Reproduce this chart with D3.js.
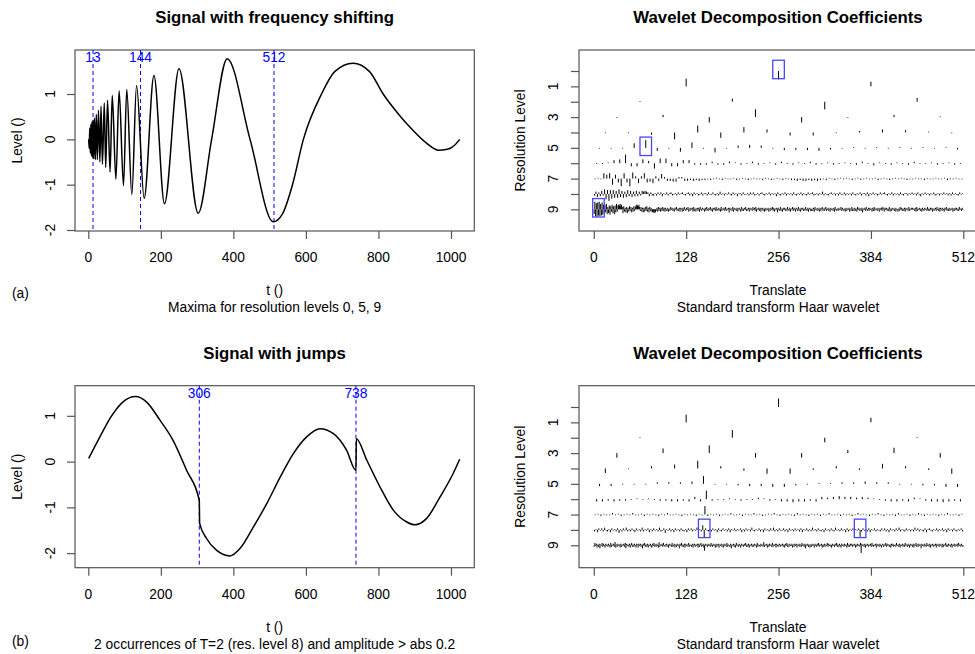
<!DOCTYPE html>
<html lang="en">
<head>
<meta charset="UTF-8">
<title>Wavelet maxima: frequency shifting and jumps</title>
<script src="https://d3js.org/d3.v7.min.js"></script>
<style>
  body { margin: 0; background: #fff; }
  svg { display: block; font-family: "Liberation Sans", Arial, sans-serif; }
  .frame { fill: none; stroke: #555; stroke-width: 1.2; }
  .tick line { stroke: #555; stroke-width: 1.2; }
  .lab { font-size: 13.8px; fill: #000; }
  .title { font-size: 16.8px; font-weight: bold; fill: #000; }
  .mark { font-size: 13.8px; fill: #0000ff; }
</style>
</head>
<body>
<script>
// ---- signal (a): chirp (t, level)
const sigA_t = [1,2.5,4,5.5,7,8.5,10,11.5,13,15,17,19.5,22,25,28,32,35,39,44,48,53,60,66,76,85,97,106,120,133,154,181,210,250,303,340,383,446,510,535,563,593,643,680,730,775,813,856,895,935,965,990,1010,1024];
const sigA_v = [0,-0.2,0.25,-0.3,0.33,-0.36,0.38,-0.4,0.42,-0.43,0.47,-0.45,0.55,-0.45,0.64,-0.5,0.73,-0.55,0.8,-0.62,0.86,-0.72,0.97,-0.88,1.07,-1.02,1.1,-1.22,1.19,-1.3,1.41,-1.42,1.56,-1.63,0.0,1.78,0.0,-1.82,-1.65,-1.0,0.0,1.0,1.5,1.68,1.5,1.0,0.55,0.2,-0.1,-0.24,-0.22,-0.13,0.0];

// ---- signal (b): sine with two jumps
const sigB_t = [1,32,62,95,130,161,198,234,271,306,307,326,354,391,418,455,492,529,565,602,639,676,712,738,739,768,804,841,878,900,933,970,1006,1024];
const sigB_v = [0.07,0.54,0.97,1.3,1.42,1.3,0.9,0.46,-0.19,-0.85,-1.35,-1.68,-1.94,-2.06,-1.9,-1.43,-0.92,-0.34,0.17,0.54,0.72,0.61,0.25,-0.19,0.5,0.03,-0.55,-1.06,-1.32,-1.38,-1.24,-0.77,-0.26,0.05];

// marked maxima
const marksA = [13, 144, 512];
const marksB = [306, 738];

// boxes on the coefficient plots (level, translate)
const boxLevA = [0, 5, 9], boxPosA = [256, 72, 6.5];
const boxLevB = [8, 8], boxPosB = [153, 369];

// ---- wavelet coefficients, one array per resolution level (units of 0.05 level, + = downwards)
const cA0 = [11];
const cA1 = [-10,-6];
const cA2 = [-1,-4,10,-5];
const cA3 = [1,-3,7,-10,7,1,-3,-1];
const cA4 = [1,1,3,9,-9,7,-7,-4,4,4,1,-2,-4,-3,-1,1];
const cA5 = [1,1,1,-6,-10,4,1,5,-7,1,6,1,-3,-4,-3,1,3,3,3,4,2,1,-1,1,-1,1,-1,1,-1,1,-1,2];
const cA6 = [1,1,-1,-4,-5,-11,4,4,-5,-3,7,-6,-6,4,4,-4,-4,2,2,2,-2,2,2,-2,-1,2,1,-2,2,1,-1,2,-2,1,2,-1,1,-2,2,1,-1,2,1,-1,1,2,-2,1,3,-1,1,2,-1,1,2,-2,1,1,-1,2,1,-1,2,1];
const cA7 = [1,-1,1,-7,-5,-7,8,-5,5,10,-7,5,10,-8,-3,6,-3,-7,5,4,6,-3,3,-6,-2,3,3,4,4,-2,
  -2,3,3,2,3,2,3,2,2,1,2,1,-1,1,2,-1,1,1,-1,2,1,-1,1,2,1,-1,1,1,2,-1,1,2,1,-1,1,2,-1,1,2,2,
  3,2,3,3,2,3,2,3,2,1,2,-1,1,2,1,-1,1,-1,1,2,1,-1,2,1,-1,1,1,-1,2,1,-1,1,2,1,-1,1,-1,1,2,1,
  1,-1,1,1,2,-1,1,1,-1,1,1,-1,2,1,1,-1,1,1];
const cA8 = [2,-3,4,-2,3,-4,2,
  -6,7,-5,9,-5,6,-5,5,-4,5,-6,4,-4,5,-3,4,-5,3,-4,4,-3,3,-4,3,-3,2,-4,-3,-4,-3,-2,3,-2,2,
  2,-1,2,-2,1,-2,3,-1,1,-2,2,-1,-2,2,1,-1,2,-2,1,-1,
  -2,1,2,-1,-2,2,-1,3,-2,1,-1,2,1,-2,2,-1,-1,2,-2,1,
  1,-2,1,2,-1,2,-3,1,-1,2,-1,1,-2,1,2,-2,1,-1,3,-1,
  -1,2,-2,1,1,-1,2,-2,1,-2,2,1,-1,2,-1,-2,1,2,-1,1,
  -2,2,-1,1,-1,3,-2,1,2,-1,1,-2,2,-1,1,-1,2,-2,1,2,
  -1,1,-2,2,-1,1,2,-2,1,-1,-2,2,1,-1,2,-1,1,-3,2,-1,
  1,2,-1,-2,1,-1,2,-1,2,-2,1,1,-2,2,-1,1,-1,2,-2,1,
  2,-1,1,-2,2,-1,-1,2,-2,3,-1,1,-2,1,-1,2,1,-2,1,-1,
  -2,1,2,-1,1,-2,2,-1,1,-1,2,-2,1,2,-1,-1,2,-1,1,-2,
  1,-1,2,-2,1,3,-1,1,-2,1,-1,2,-1,1,-2,2,1,-1,2,-1,
  1,-2,1,-1,2,-1,2,-2,1,-1,1,2,-2,1,-1];
const cA9 = [6,-10,9,-8,10,-9,8,-10,9,-7,8,-9,7,-6,
  5,-6,4,-7,6,-3,5,-5,7,-4,3,-6,5,-4,6,-5,4,-7,3,-5,
  -6,-5,-7,-4,-6,-3,5,-4,3,-2,4,-3,5,-2,3,-4,2,-3,4,-2,
  3,-4,2,-3,-5,-6,-5,-4,-6,-3,2,-3,3,-2,4,-2,3,-3,2,-4,
  3,-2,4,-3,2,-2,3,4,3,5,3,4,2,-2,3,-3,2,-2,3,-2,
  2,-3,2,-2,3,-2,2,
  2,-2,3,-1,2,-3,1,-2,2,-1,3,-2,1,-3,2,-1,2,-2,3,-2,
  -1,3,-2,2,-3,1,2,-2,1,-3,3,-1,2,-2,1,-2,3,-3,2,-1,
  3,-1,-2,2,-2,3,-3,1,2,-2,1,-1,3,-2,2,-3,1,2,-2,1,
  -3,2,-1,3,-2,1,-2,2,-3,2,1,-2,2,-1,3,-3,2,-1,1,-2,
  2,-3,2,-1,1,-2,4,-2,1,-1,2,-3,3,-2,1,-1,2,-2,3,-1,
  -2,1,3,-3,2,-1,2,-2,1,-3,2,2,-1,-2,3,-2,1,-1,2,-3,
  1,-2,2,-3,3,-1,1,-2,2,-2,3,-1,-2,2,-1,3,-2,2,-1,1,
  -2,3,-1,2,-2,1,-3,2,-2,3,-1,1,-2,4,-2,1,2,-3,2,-1,
  3,-2,1,-2,2,-1,2,-3,1,2,-2,3,-1,1,-3,2,-2,1,3,-2,
  -1,2,-3,2,-1,3,-2,1,-2,2,-1,2,-3,1,2,-2,3,-1,-2,2,
  2,-1,2,-2,3,-3,1,-1,2,-2,1,3,-2,2,-1,-3,2,-1,2,-2,
  -3,2,1,-2,2,-1,3,-2,1,-1,2,-2,3,-3,1,2,-1,2,-2,1,
  1,-3,2,-2,1,2,-1,3,-2,2,-1,1,-2,3,-1,2,-3,2,-1,2,
  -2,2,-1,3,-3,1,-2,2,-1,2,-2,4,-1,1,-2,2,-3,1,2,-2,
  2,-2,1,-1,3,-2,2,-3,2,-1,1,-2,2,-1,3,-2,1,-2,2,-3,
  -1,3,-2,1,-2,2,-1,2,-3,3,-1,2,-2,1,-1,2,-2,3,-1,1,
  3,-1,2,-3,1,-2,2,-1,2,-2,3,-2,1,-1,2,-3,2,-1,1,-2,
  -2,1,-1,2,-2,3,-3,2,-1,1,-2,2,-1,3,-2,1,2,-2,1,-1,
  2,-3,2,-1,2,-2,1,-2,3,-1,2,-1,-2,2,-3,1,2,-2,3,-2,
  -1,2,-2,1,3,-2,1,-3,2,-1,2,-2,2,-1,1,-2,3,-1,2,-2,
  1,-2,2,-1,2,-3,1,-1,2,-2,1];

const cB0 = [-11];
const cB1 = [-10,-6];
const cB2 = [-1,-10,6,-1];
const cB3 = [6,-6,-10,6,6,-4,-7,6];
const cB4 = [6,1,-3,-5,-10,-3,3,7,7,2,-3,2,-6,-3,2,7];
const cB5 = [3,3,1,1,1,-2,-2,-2,-3,-10,1,1,2,3,3,4,4,2,1,-1,-1,-2,-2,-3,-2,-2,1,1,2,2,4,4];
const cB6 = [3,3,2,3,2,2,1,-1,1,-1,1,2,2,3,3,2,3,-3,3,-11,2,1,1,-1,1,2,1,1,-2,-1,2,1,
  3,3,4,3,3,2,3,-3,-2,-3,-4,-3,-3,-2,-3,-2,-1,1,2,3,3,2,3,-2,-1,2,3,3,4,3,2,3];
const cB7 = [1,-1,2,-1,1,1,-2,1,-1,2,1,-1,1,-2,1,1,-1,2,-1,1,
  -1,1,2,-1,1,-2,1,1,-1,1,2,-1,1,-1,1,2,-1,1,-11,2,
  -1,1,-1,2,1,-1,1,-2,1,1,-1,2,-1,1,1,-2,1,-1,2,1,
  -1,1,-2,1,2,-1,1,-1,1,2,-2,1,-1,1,2,-1,1,-1,2,-1,
  1,-2,1,1,-1,2,-1,1,-1,2,1,-2,1,-1,1,2,-1,1,-2,1,
  2,-1,1,-1,2,-2,1,1,-1,2,-1,1,-2,1,2,-1,1,-1,1,2,
  -1,1,-2,1,1,-1,2,-1];
const cB8 = [2,-1,3,-2,1,-2,2,-3,1,2,-1,3,-2,1,-1,2,-2,4,-1,2,
  -2,1,-3,2,-1,2,-2,1,3,-2,1,-1,2,-3,2,-1,1,-2,3,-1,
  2,-2,1,-1,2,-3,2,1,-2,4,-1,1,-2,2,-1,3,-2,1,-1,2,
  -2,1,2,-1,3,-2,1,-2,2,-1,1,-3,2,-1,2,-6,10,-2,1,2,
  -1,2,-2,1,-1,3,-2,1,2,-2,1,-1,2,-2,3,-1,1,-2,2,-1,
  1,-2,3,-1,2,-2,1,-1,2,-3,1,2,-1,1,-2,2,-1,3,-2,1,
  -1,2,-2,1,-3,2,-1,2,-2,1,1,-2,2,-1,3,-2,1,-1,2,-2,
  1,-1,2,-2,3,-1,1,-2,2,-1,2,-3,1,-1,2,-2,1,2,-1,3,
  -2,1,-1,2,-2,1,2,-3,1,-1,2,-2,1,-1,3,-2,2,-1,1,-2,
  2,-1,1,-2,9,2,-2,1,-1,2,-2,3,-1,1,-2,2,-1,1,2,-2,
  1,-2,2,-1,3,-2,1,-1,2,-2,1,-3,2,-1,1,2,-2,1,-1,2,
  -1,2,-3,1,-2,2,-1,1,2,-2,3,-1,-2,1,2,-1,1,-2,2,-1,
  1,-2,2,-1,3,-2,1,-1,2,-2,1,2,-1,1,-2,2];
const cB9 = [2,-3,1,-2,3,-1,2,-2,4,-1,1,-3,2,-2,1,3,-2,1,-1,2,
  -2,1,3,-3,2,-1,1,-2,2,-4,3,-1,2,-2,1,-1,3,-2,2,-1,
  1,-2,2,-3,4,-2,1,-1,2,-2,3,-1,-3,2,-1,2,-2,1,3,-2,
  -1,3,-2,1,-2,2,-1,4,-2,1,-3,2,-1,2,-2,3,-1,1,-2,2,
  3,-2,1,-3,2,-1,2,-2,1,3,-4,2,-1,1,-2,2,-3,1,2,-1,
  -2,2,-1,3,-2,1,-1,2,-3,2,1,-2,3,-1,2,-2,1,-1,4,-2,
  1,-3,2,-1,2,-2,3,-2,1,-1,2,-3,2,-1,1,2,-2,3,-1,-2,
  2,-1,1,-2,3,-2,2,-1,-3,2,1,-2,3,7,-2,1,-1,2,-2,1,
  -1,2,-3,1,2,-2,1,-1,3,-2,2,-1,-2,3,-1,1,-2,2,-1,3,
  -2,1,-1,2,-3,2,-1,1,2,-2,4,-1,1,-2,2,-1,3,-3,1,-1,
  2,-2,1,3,-2,1,-1,2,-2,1,-3,2,-1,2,-2,3,-1,1,-2,2,
  -1,2,-2,1,-1,3,-3,2,-1,1,2,-2,1,-1,2,-4,2,-1,1,-2,
  3,-1,2,-2,1,-1,2,-3,2,-1,1,-2,3,-2,1,2,-1,-2,2,-1,
  1,-2,2,-1,3,-2,1,-3,2,-1,2,-2,1,1,-2,3,-1,2,-2,1,
  -2,3,-1,1,-2,2,-1,2,-3,1,-1,2,-2,4,-1,1,-2,2,-1,3,
  -1,2,-2,1,-1,3,-2,1,2,-2,1,-3,2,-1,1,-2,3,-1,2,-2,
  2,-1,1,-3,2,-2,1,-1,2,3,-2,1,-1,2,-2,1,-3,2,-1,2,
  -2,1,3,-2,1,-1,2,-2,1,-1,3,-3,2,-1,2,-2,1,-2,2,-1,
  1,-2,3,-1,2,-2,1,-1,2,-3,10,-2,1,-1,2,-2,3,-1,1,-2,
  2,-1,1,-2,2,-3,1,2,-1,1,-2,3,-2,1,-1,2,-2,1,3,-1,
  -2,2,-1,1,-3,2,-2,1,-1,2,-1,3,-2,1,-2,2,1,-1,2,-3,
  1,-1,2,-2,3,-1,1,-2,2,-1,2,-3,1,-1,2,-2,1,3,-2,1,
  -1,2,-2,3,-1,1,-3,2,-1,2,-2,1,-1,4,-2,1,-1,2,-2,1,
  2,-3,1,-1,2,-2,3,-1,1,-2,2,-1,1,-2,3,-2,1,-1,2,-2,
  1,-1,3,-2,2,-1,1,-3,2,-1,2,-2,1,-1,2,-2,3,-1,1,-2,
  2,-1,1,-2,2,-3,1,-1,2,-2,1,2];

const coefA = [cA0, cA1, cA2, cA3, cA4, cA5, cA6, cA7, cA8, cA9];
const coefB = [cB0, cB1, cB2, cB3, cB4, cB5, cB6, cB7, cB8, cB9];

const xTicksT = [0, 200, 400, 600, 800, 1000];
const yTicksLevel = [-2, -1, 0, 1];
const xTicksTranslate = [0, 128, 256, 384, 512];
const levelTicks = [0, 1, 2, 3, 4, 5, 6, 7, 8, 9];
const levelLabels = [1, 3, 5, 7, 9];

const svg = d3.select("body").append("svg")
  .attr("width", 975).attr("height", 654);

function addText(g, x, y, txt, cls, rotate) {
  const t = g.append("text").attr("class", cls)
    .attr("text-anchor", "middle").attr("dy", "0.35em").text(txt);
  if (rotate) t.attr("transform", `translate(${x},${y}) rotate(-90)`);
  else t.attr("x", x).attr("y", y);
  return t;
}

function signalPanel(p) {
  const g = svg.append("g");
  const x = d3.scaleLinear().domain([-36.7, 1064.3]).range([75, 474.3]);
  const y = d3.scaleLinear().domain(p.ydom).range([p.y1, p.y0]);

  g.append("rect").attr("class", "frame")
    .attr("x", 75).attr("y", p.y0).attr("width", 474.3 - 75).attr("height", p.y1 - p.y0);

  const ax = g.append("g").attr("transform", `translate(0,${p.y1})`)
    .call(d3.axisBottom(x).tickValues(xTicksT).tickSize(8).tickFormat(""));
  ax.select(".domain").remove();
  xTicksT.forEach(v => addText(g, x(v), p.y1 + 26, String(v), "lab"));

  const ay = g.append("g").attr("transform", "translate(75,0)")
    .call(d3.axisLeft(y).tickValues(yTicksLevel).tickSize(8).tickFormat(""));
  ay.select(".domain").remove();
  yTicksLevel.forEach(v => addText(g, 50, y(v), String(v), "lab", true));

  // dashed markers
  p.marks.forEach(m => {
    g.append("line").attr("x1", x(m)).attr("x2", x(m))
      .attr("y1", p.y0).attr("y2", p.y1)
      .attr("stroke", "#0000ff").attr("stroke-width", 1).attr("stroke-dasharray", "4,3");
    addText(g, x(m), p.y0 + 7.5, String(m), "mark");
  });

  const pts = p.t.map((t, i) => ({ t: t, v: p.v[i] }));
  g.append("path").datum(pts)
    .attr("fill", "none").attr("stroke", "#000").attr("stroke-width", 1.5)
    .attr("stroke-linejoin", "round")
    .attr("d", d3.line().x(d => x(d.t)).y(d => y(d.v)).curve(d3.curveMonotoneX));

  addText(g, 274.6, p.y0 - 33, p.title, "title");
  addText(g, 274.6, p.y1 + 59, "t ()", "lab");
  addText(g, 274.6, p.y1 + 76, p.sub, "lab");
  addText(g, 17, (p.y0 + p.y1) / 2, "Level ()", "lab", true);
  g.append("text").attr("class", "lab").attr("x", 12).attr("y", p.tagY)
    .attr("dy", "0.35em").text(p.tag);
}

function coefPanel(p) {
  const g = svg.append("g");
  const x = d3.scaleLinear().domain([-20.48, 532.48]).range([579, 978.1]);
  const y = d3.scaleLinear().domain(p.ldom).range([p.y0, p.y1]);

  g.append("rect").attr("class", "frame")
    .attr("x", 579).attr("y", p.y0).attr("width", 978.1 - 579).attr("height", p.y1 - p.y0);

  const ax = g.append("g").attr("transform", `translate(0,${p.y1})`)
    .call(d3.axisBottom(x).tickValues(xTicksTranslate).tickSize(8).tickFormat(""));
  ax.select(".domain").remove();
  xTicksTranslate.forEach(v => addText(g, x(v), p.y1 + 26, String(v), "lab"));

  const ay = g.append("g").attr("transform", "translate(579,0)")
    .call(d3.axisLeft(y).tickValues(levelTicks).tickSize(8).tickFormat(""));
  ay.select(".domain").remove();
  levelLabels.forEach(v => addText(g, 553.3, y(v), String(v), "lab", true));

  // coefficient segments
  p.coef.forEach((arr, j) => {
    const n = arr.length;
    g.append("g").selectAll("line").data(arr).join("line")
      .attr("x1", (d, k) => x((k + 0.5) * 512 / n))
      .attr("x2", (d, k) => x((k + 0.5) * 512 / n))
      .attr("y1", y(j))
      .attr("y2", d => y(j + d * 0.05))
      .attr("stroke", "#000").attr("stroke-width", 1);
  });

  // boxes around the selected maxima
  p.boxLev.forEach((lv, i) => {
    const c = p.boxPos[i];
    g.append("rect")
      .attr("x", x(c - 8)).attr("width", x(c + 8) - x(c - 8))
      .attr("y", y(lv - 0.7)).attr("height", y(lv + 0.5) - y(lv - 0.7))
      .attr("fill", "none").attr("stroke", "#4646ff").attr("stroke-width", 1.3);
  });

  addText(g, 778, p.y0 - 33, "Wavelet Decomposition Coefficients", "title");
  addText(g, 778, p.y1 + 59, "Translate", "lab");
  addText(g, 778, p.y1 + 76, "Standard transform Haar wavelet", "lab");
  addText(g, 520, (p.y0 + p.y1) / 2, "Resolution Level", "lab", true);
}

signalPanel({ y0: 50, y1: 231, ydom: [-2.022, 1.971], t: sigA_t, v: sigA_v, marks: marksA,
  title: "Signal with frequency shifting", sub: "Maxima for resolution levels 0, 5, 9",
  tag: "(a)", tagY: 293 });
signalPanel({ y0: 385.7, y1: 567.7, ydom: [-2.318, 1.658], t: sigB_t, v: sigB_v, marks: marksB,
  title: "Signal with jumps", sub: "2 occurrences of T=2 (res. level 8) and amplitude > abs 0.2",
  tag: "(b)", tagY: 641 });
coefPanel({ y0: 50, y1: 231, ldom: [-1.366, 10.41], coef: coefA, boxLev: boxLevA, boxPos: boxPosA });
coefPanel({ y0: 385.7, y1: 567.7, ldom: [-1.386, 10.46], coef: coefB, boxLev: boxLevB, boxPos: boxPosB });
</script>
</body>
</html>
